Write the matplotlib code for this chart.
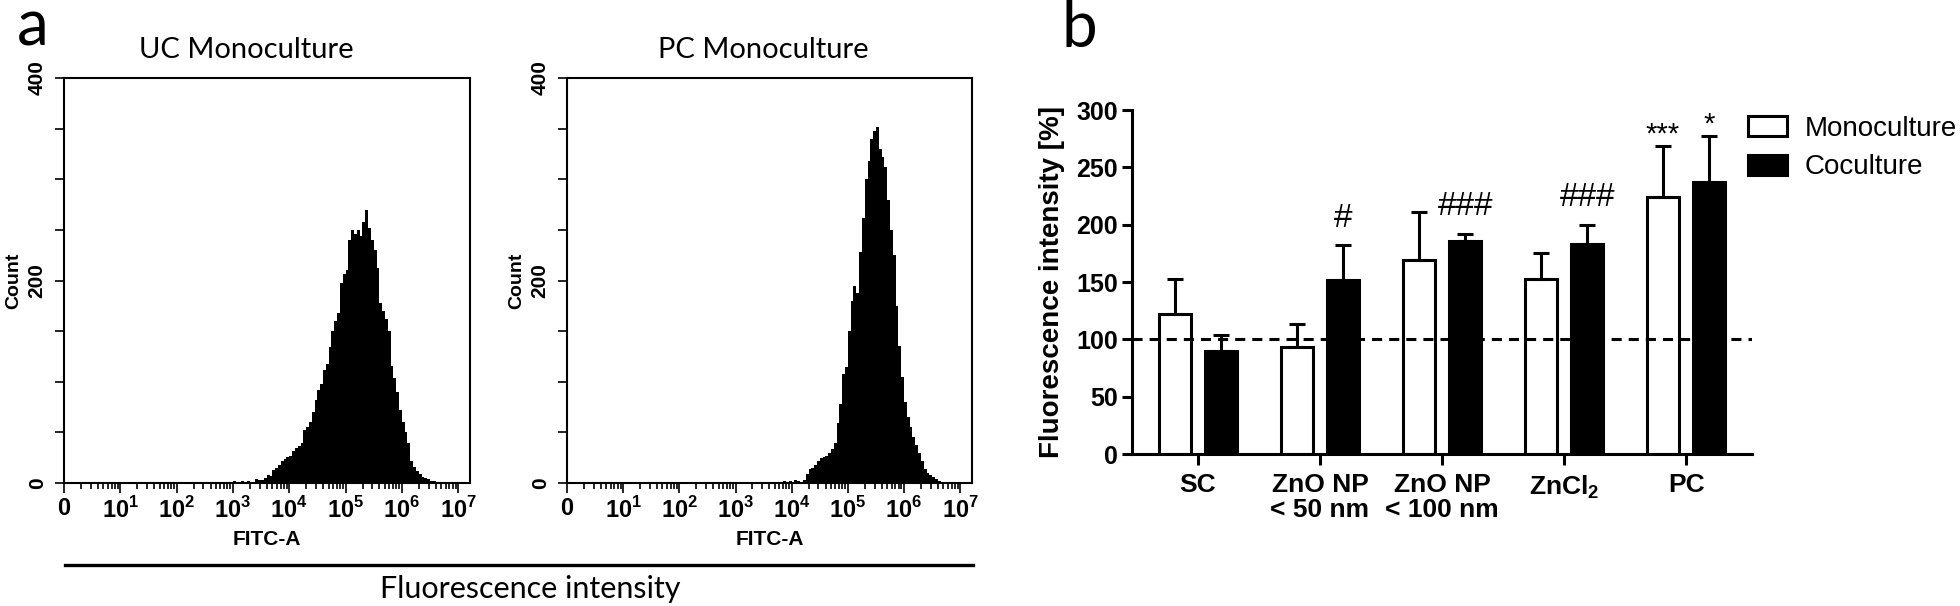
import matplotlib
matplotlib.use('Agg')
import matplotlib.pyplot as plt
import matplotlib.patches as mpatches
import numpy as np

plt.rcParams['font.family'] = ['Liberation Sans', 'DejaVu Sans']
plt.rcParams['mathtext.fontset'] = 'custom'
plt.rcParams['mathtext.rm'] = 'Liberation Sans'
plt.rcParams['mathtext.bf'] = 'Liberation Sans:bold'

# --- panel a: flow cytometry histograms, counts per 0.05-decade bin ---
bin_w = 0.05
uc_start = 3.0
uc_counts = [2, 1, 1, 2, 1, 2, 1, 1, 4, 3, 3, 5, 8, 7, 13, 15, 18, 22, 24, 26,
             27, 32, 35, 37, 40, 52, 55, 60, 70, 82, 92, 98, 112, 118, 134, 150,
             160, 168, 198, 206, 210, 240, 250, 246, 250, 244, 258, 270, 252, 240,
             230, 212, 178, 170, 162, 150, 116, 104, 90, 72, 60, 50, 40, 22, 16,
             12, 9, 6, 5, 4, 2, 2, 1, 1, 1]
pc_start = 3.5
pc_counts = [1, 0, 1, 0, 1, 0, 1, 2, 1, 2, 1, 3, 2, 1, 3, 9, 14, 15, 18, 22,
             25, 26, 27, 30, 34, 40, 59, 78, 108, 115, 150, 180, 195, 188, 228,
             262, 300, 318, 340, 348, 352, 330, 322, 312, 280, 250, 225, 175, 135,
             105, 80, 65, 55, 45, 38, 30, 22, 14, 10, 8, 6, 4, 2, 1]
hist_titles = ['UC Monoculture', 'PC Monoculture']
decade_labels = ['0'] + [r'$\mathbf{10}^{\mathregular{%d}}$' % k for k in range(1, 8)]

# --- panel b: bar chart ---
groups = ['SC', 'ZnO NP\n< 50 nm', 'ZnO NP\n< 100 nm', r'ZnCl$_\mathbf{2}$', 'PC']
mono = [122, 93, 169, 153, 224]
mono_err = [31, 20, 42, 22, 45]
co = [90, 152, 186, 183, 237]
co_err = [14, 30, 6, 17, 40]
mono_marks = ['', '', '', '', '***']
co_marks = ['', '#', '###', '###', '*']

W, H = 1960, 606
fig = plt.figure(figsize=(W / 100, H / 100), dpi=100)


def px_axes(x0, y0, x1, y1):
    return fig.add_axes([x0 / W, 1 - y1 / H, (x1 - x0) / W, (y1 - y0) / H])


minor_x = [k + np.log10(m) for k in range(7) for m in range(2, 10)]
for (x0, x1), start, counts, title, tx in zip([(64, 470), (567, 972)],
                                             [uc_start, pc_start],
                                             [uc_counts, pc_counts],
                                             hist_titles, [246, 763]):
    ax = px_axes(x0, 78, x1, 483)
    edges = start + bin_w * np.arange(len(counts) + 1)
    ax.stairs(counts, edges, fill=True, color='black', lw=0)
    ax.set_xlim(0, 7.21)
    ax.set_ylim(0, 400)
    ax.set_xticks(range(8))
    ax.set_xticklabels(decade_labels)
    ax.set_xticks(minor_x, minor=True)
    ax.set_yticks([0, 200, 400])
    ax.set_yticks(range(0, 401, 50), minor=True)
    ax.tick_params(axis='both', which='both', direction='out', width=1.2,
                   colors='black')
    ax.tick_params(axis='x', which='major', length=7, labelsize=17, pad=3)
    ax.tick_params(axis='x', which='minor', length=4.5)
    ax.tick_params(axis='y', which='both', length=6.5, labelsize=15, pad=6)
    for lab in ax.get_yticklabels():
        lab.set_rotation(90)
        lab.set_va('center')
        lab.set_fontweight('bold')
    for lab in ax.get_xticklabels():
        lab.set_fontweight('bold')
    for sp in ax.spines.values():
        sp.set_linewidth(1.5)
    ax.set_ylabel('Count', fontsize=14, fontweight='bold', labelpad=4)
    ax.set_xlabel('FITC-A', fontsize=15, fontweight='bold', labelpad=5)
    fig.text(tx / W, 1 - 58 / H, title, fontsize=21, family='Lato',
             ha='center', va='baseline')

fig.text(17 / W, 1 - 45 / H, 'a', fontsize=46, family='Lato', va='baseline')
fig.add_artist(plt.Line2D([65 / W, 973 / W], [1 - 565 / H, 1 - 565 / H],
                          color='black', lw=2.4))
fig.text(530 / W, 1 - 598 / H, 'Fluorescence intensity', fontsize=22,
         family='Lato', ha='center', va='baseline')

# bar chart
fig.text(1062 / W, 1 - 47 / H, 'b', fontsize=46, family='Lato', va='baseline')
ax = px_axes(1132, 110, 1752, 454)
x = np.arange(len(groups))
off, bw = 0.19, 0.26
ekw = dict(lw=2.2, capsize=6, capthick=2.2, ecolor='black')
ax.bar(x - off, mono, bw, color='white', edgecolor='black', lw=2.2,
       yerr=[[0] * len(x), mono_err], error_kw=ekw, zorder=2)
ax.bar(x + off, co, bw, color='black', edgecolor='black', lw=2.2,
       yerr=[[0] * len(x), co_err], error_kw=ekw, zorder=2)
ax.axhline(100, color='black', lw=2.2, ls=(0, (3.3, 2.3)), zorder=3)

for i in range(len(x)):
    if co_marks[i].startswith('#'):
        ax.text(x[i] + off, co[i] + co_err[i] + 16, co_marks[i], fontsize=24,
                ha='center', va='baseline')
    elif co_marks[i]:
        ax.text(x[i] + off, co[i] + co_err[i] + 3, co_marks[i], fontsize=21,
                ha='center', va='baseline')
    if mono_marks[i]:
        ax.text(x[i] - off, mono[i] + mono_err[i] + 3, mono_marks[i],
                fontsize=21, ha='center', va='baseline')

ax.set_xlim(-0.54, 4.54)
ax.set_ylim(0, 300)
ax.set_yticks(range(0, 301, 50))
ax.set_xticks(x)
ax.set_xticklabels(groups, fontsize=19, fontweight='bold', linespacing=1.05)
for lab in ax.get_yticklabels():
    lab.set_fontweight('bold')
ax.tick_params(axis='y', length=7, width=2.2, labelsize=18, pad=3)
ax.tick_params(axis='x', length=8, width=2.2, pad=6)
for s in ['top', 'right']:
    ax.spines[s].set_visible(False)
for s in ['left', 'bottom']:
    ax.spines[s].set_linewidth(2.2)
ax.set_ylabel('Fluorescence intensity [%]', fontsize=20, fontweight='bold',
              labelpad=8)

handles = [mpatches.Patch(facecolor='white', edgecolor='black', lw=2.2,
                          label='Monoculture'),
           mpatches.Patch(facecolor='black', edgecolor='black', lw=2.2,
                          label='Coculture')]
fig.legend(handles=handles, loc='upper left',
           bbox_to_anchor=(1748 / W, 1 - 116 / H), frameon=False, fontsize=20,
           handlelength=1.4, handleheight=0.75, handletextpad=0.65,
           labelspacing=0.45, borderpad=0, borderaxespad=0)

fig.savefig('out.png', dpi=100)
